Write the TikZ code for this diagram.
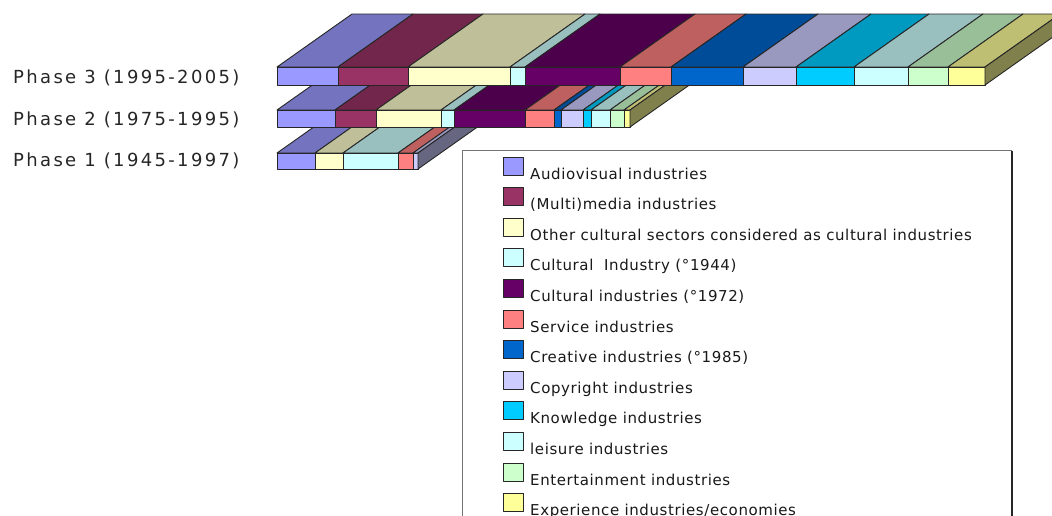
\documentclass[tikz,border=0pt]{standalone}
\usepackage{fontspec}
\setmainfont{DejaVu Sans}
\newfontfamily\phasefont[LetterSpace=13]{DejaVu Sans}
\newfontfamily\keyfont[LetterSpace=4]{DejaVu Sans}
\usetikzlibrary{positioning}

%% segment colours (front faces)
\definecolor{av}{HTML}{9999FF}
\definecolor{mm}{HTML}{993366}
\definecolor{oc}{HTML}{FFFFCC}
\definecolor{ci}{HTML}{CCFFFF}
\definecolor{cy}{HTML}{660066}
\definecolor{sv}{HTML}{FF8080}
\definecolor{cr}{HTML}{0066CC}
\definecolor{cp}{HTML}{CCCCFF}
\definecolor{kn}{HTML}{00CCFF}
\definecolor{le}{HTML}{CCFFFF}
\definecolor{en}{HTML}{CCFFCC}
\definecolor{ex}{HTML}{FFFF99}

\begin{document}
\begin{tikzpicture}
[x=1pt,y=-1pt,
  faceDecorate/.style={draw=black!85,line width=0.9pt,line join=round},
  phaseLabel/.style={anchor=west,inner sep=0pt,text=black!85,font=\phasefont\fontsize{18}{20}\selectfont},
  keyBox/.style={draw=black!55,line width=1pt},
  keyText/.style={anchor=base west,inner sep=0pt,text=black!90,font=\keyfont\fontsize{15}{17}\selectfont}]
\useasboundingbox (0,0) rectangle (1052,515);
\clip (0,0) rectangle (1052,515);
%% one 3d bar: top edge, bottom edge, segments, last colour, right end
\newcommand{\phasebar}[5]{
  \foreach \xa/\xb/\col in {#3}
  {
    \filldraw[faceDecorate,fill=\col!75!black] (\xa,#1) -- (\xb,#1) -- ++(75,-53) -- (\xa+75,#1-53) -- cycle;
    \filldraw[faceDecorate,fill=\col] (\xa,#1) rectangle (\xb,#2);
  }
  \filldraw[faceDecorate,fill=#4!50!black] (#5,#1) -- (#5,#2) -- ++(75,-53) -- (#5+75,#1-53) -- cycle;
}
%% bars, from front row to back row
\phasebar{153}{169}{277/315/av, 315/343/oc, 343/398/ci, 398/413/sv, 413/418/cp}{cp}{418}
\phasebar{110}{127}{277/335/av, 335/376/mm, 376/441/oc, 441/454/ci, 454/525/cy, 525/554/sv,
  554/561/cr, 561/583/cp, 583/591/kn, 591/610/le, 610/624/en, 624/630/ex}{ex}{630}
\phasebar{67}{85}{277/338/av, 338/408/mm, 408/510/oc, 510/525/ci, 525/620/cy, 620/671/sv,
  671/743/cr, 743/796/cp, 796/854/kn, 854/908/le, 908/948/en, 948/985/ex}{ex}{985}
%% phase names
\node (p3) at (13,78) [phaseLabel] {Phase 3 (1995-2005)};
\node (p2) at (13,120) [phaseLabel] {Phase 2 (1975-1995)};
\node (p1) at (13,161) [phaseLabel] {Phase 1 (1945-1997)};
%% legend
\filldraw[keyBox,fill=white] (462,150) rectangle (1011,540);
\draw[black!85,line width=1.2pt] (1012,151) -- (1012,540);
\foreach \k/\col/\txt in {
  0/av/{Audiovisual industries},
  1/mm/{(Multi)media industries},
  2/oc/{Other cultural sectors considered as cultural industries},
  3/ci/{Cultural\ \ Industry (°1944)},
  4/cy/{Cultural industries (°1972)},
  5/sv/{Service industries},
  6/cr/{Creative industries (°1985)},
  7/cp/{Copyright industries},
  8/kn/{Knowledge industries},
  9/le/{leisure industries},
  10/en/{Entertainment industries},
  11/ex/{Experience industries/economies}}
{
  \filldraw[faceDecorate,line width=0.8pt,fill=\col] (503,157+30.6*\k) rectangle (523,175+30.6*\k);
  \node (key\k) at (530,179+30.6*\k) [keyText] {\txt};
}
\end{tikzpicture}
\end{document}
